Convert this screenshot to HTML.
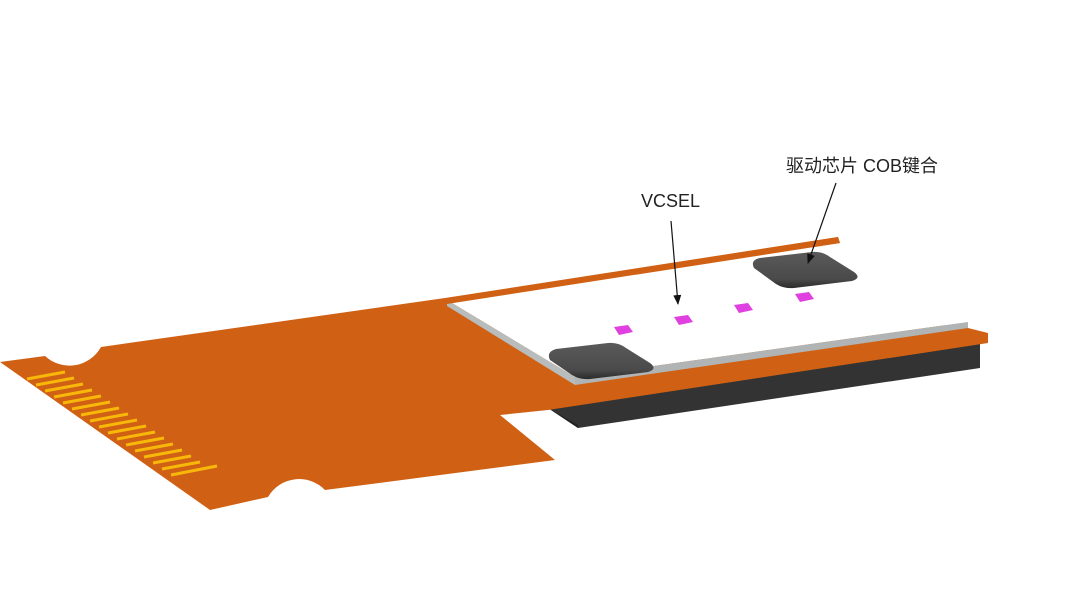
<!DOCTYPE html>
<html><head><meta charset="utf-8"><style>
html,body{margin:0;padding:0;background:#fff;}
svg{display:block}
text{font-family:"Liberation Sans","Noto Sans CJK SC",sans-serif;fill:#222;}
</style></head><body>
<svg width="1080" height="608" viewBox="0 0 1080 608" xmlns="http://www.w3.org/2000/svg">
<defs>
<marker id="ah" markerWidth="10" markerHeight="10" refX="9" refY="5" orient="auto" markerUnits="userSpaceOnUse">
<path d="M0,1 L10,5 L0,9 Z" fill="#111"/></marker>
<linearGradient id="chip" x1="0" y1="0" x2="0" y2="1"><stop offset="0" stop-color="#5a5a5a"/><stop offset="0.75" stop-color="#4a4a4a"/><stop offset="1" stop-color="#2a2a2a"/></linearGradient>
</defs>
<polygon points="548,408 980,342 980,368 578,428" fill="#333"/>
<polygon points="548,408 578,425 578,428" fill="#222"/>
<path d="M0,362 L45,356 A36,36 0 0 0 101,347 L445,298 L838,237 L840,243 L460,302 L960,326 L988,333 L988,343 L548,410 L500,415 L555,460 L325,490 A36,36 0 0 0 268,497 L210,510 Z" fill="#d06114"/>
<polygon points="447,300 810,247 968,322 575,377" fill="#fff"/>
<polygon points="447,300 575,377 575,385 447,306" fill="#b8bcbc"/>
<polygon points="575,377 968,322 968,328 575,385" fill="#b0b4b4"/>
<polygon points="440,300 838,237 840,243 447,304" fill="#d06114"/>
<g stroke="#f7b80a" stroke-width="3">
<line x1="27" y1="379" x2="65" y2="372"/><line x1="36" y1="385" x2="74" y2="378"/><line x1="45" y1="391" x2="83" y2="384"/><line x1="54" y1="397" x2="92" y2="390"/><line x1="63" y1="403" x2="101" y2="396"/><line x1="72" y1="409" x2="110" y2="402"/><line x1="81" y1="415" x2="119" y2="408"/><line x1="90" y1="421" x2="128" y2="414"/><line x1="99" y1="427" x2="137" y2="420"/><line x1="108" y1="433" x2="146" y2="426"/><line x1="117" y1="439" x2="155" y2="432"/><line x1="126" y1="445" x2="164" y2="438"/><line x1="135" y1="451" x2="173" y2="444"/><line x1="144" y1="457" x2="182" y2="450"/><line x1="153" y1="463" x2="191" y2="456"/><line x1="162" y1="469" x2="200" y2="462"/><line x1="171" y1="475" x2="217" y2="466"/>
</g>
<path d="M550,360 Q546,352 556,349 L608,343 Q618,342 626,348 L650,363 Q658,369 648,372 L590,379 Q580,380 572,375 Z" fill="url(#chip)"/>
<path d="M754,268 Q750,260 760,258 L812,252 Q822,251 830,257 L854,272 Q862,278 852,281 L794,288 Q784,289 776,284 Z" fill="url(#chip)"/>
<g fill="#e040e0">
<polygon points="614,327 628,325 633,332 619,335"/>
<polygon points="674,317 688,315 693,322 679,325"/>
<polygon points="734,305 748,303 753,310 739,313"/>
<polygon points="795,294 809,292 814,299 800,302"/>
</g>
<text x="641" y="207" font-size="18">VCSEL</text>
<text x="786" y="172" font-size="18">驱动芯片 COB键合</text>
<line x1="671" y1="221" x2="678" y2="304" stroke="#111" stroke-width="1.2" marker-end="url(#ah)"/>
<line x1="836" y1="183" x2="808" y2="263" stroke="#111" stroke-width="1.2" marker-end="url(#ah)"/>
</svg>
</body></html>
